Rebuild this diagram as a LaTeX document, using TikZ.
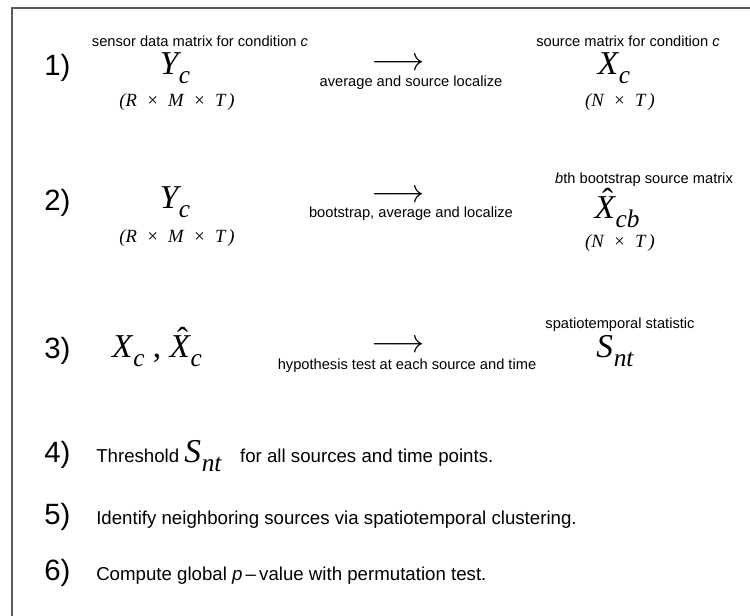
\documentclass[tikz,border=0pt]{standalone}
\usepackage{fontspec}
\setmainfont{Liberation Sans}
\newfontfamily\tmf{Liberation Serif}
\newcommand\bigvar[2]{{\fontsize{25}{27}\selectfont\tmf\itshape #1\kern0.02em\raisebox{-0.26em}{\fontsize{19}{20}\selectfont #2}}}
\newcommand\hatmark{\tmf\upshape\symbol{"02C6}}
\newcommand\hatvar[2]{{\fontsize{25}{27}\selectfont\tmf\itshape\ooalign{#1\cr\hidewidth\kern0.18em\raisebox{0.22em}{\hatmark}\hidewidth\cr}\kern0.02em\raisebox{-0.26em}{\fontsize{19}{20}\selectfont #2}}}
\newcommand\sep{\hspace{0.5em}}
\begin{document}
\begin{tikzpicture}[x=0.75pt,y=-0.75pt,
  lbl/.style={font=\fontsize{11}{13}\selectfont, inner sep=0pt},
  num/.style={font=\fontsize{22}{24}\selectfont, inner sep=0pt, anchor=base west},
  big/.style={inner sep=0pt},
  dimtxt/.style={font=\fontsize{14}{16}\selectfont\tmf\itshape, inner sep=0pt},
  arr/.style={inner sep=0pt, font=\fontsize{23}{24}\selectfont},
  txt/.style={font=\fontsize{14}{16}\selectfont, inner sep=0pt, anchor=base west},
  frame/.style={line width=1.5pt, draw=black!65}]
\useasboundingbox (0,0) rectangle (750,616);
\coordinate (fbl) at (12,616);
\coordinate (ftl) at (12,8);
\coordinate (ftr) at (750,8);
\draw[frame] (fbl) -- (ftl) -- (ftr);
% row 1
\node[num] (n1) at (44,76) {1)};
\node[lbl] (l1a) at (200,41) {sensor data matrix for condition \textit{c}};
\node[big] (y1) at (175,68) {\bigvar{Y}{c}};
\node[dimtxt] (d1a) at (177,102) {(R\sep×\sep M\sep×\sep T\,)};
\node[arr] (a1) at (398,64) {$\longrightarrow$};
\node[lbl] (t1) at (411,83) {average and source localize};
\node[lbl] (l1b) at (628,41) {source matrix for condition \textit{c}};
\node[big] (x1) at (614,68) {\bigvar{X}{c}};
\node[dimtxt] (d1b) at (620,102) {(N\sep×\sep T\,)};
% row 2
\node[num] (n2) at (44,211) {2)};
\node[big] (y2) at (175,202) {\bigvar{Y}{c}};
\node[dimtxt] (d2a) at (177,238) {(R\sep×\sep M\sep×\sep T\,)};
\node[arr] (a2) at (398,196) {$\longrightarrow$};
\node[lbl] (t2) at (411,214) {bootstrap, average and localize};
\node[lbl] (l2b) at (644,180) {\textit{b}th bootstrap source matrix};
\node[big, anchor=base] (x2) at (617,219) {\hatvar{X}{cb}};
\node[dimtxt] (d2b) at (620,243) {(N\sep×\sep T\,)};
% row 3
\node[num] (n3) at (44,359) {3)};
\node[big] (x3) at (157,351) {\bigvar{X}{c}{\fontsize{25}{27}\selectfont\tmf\ ,\ }\hatvar{X}{c}};
\node[arr] (a3) at (398,346) {$\longrightarrow$};
\node[lbl] (t3) at (407,366) {hypothesis test at each source and time};
\node[lbl] (l3b) at (620,325) {spatiotemporal statistic};
\node[big] (s3) at (615,351) {\bigvar{S}{nt}};
% rows 4-6
\node[num] (n4) at (44,463) {4)};
\node[txt] (t4) at (96,463) {Threshold \bigvar{S}{nt}\quad for all sources and time points.};
\node[num] (n5) at (44,524) {5)};
\node[txt] (t5) at (96,524) {Identify neighboring sources via spatiotemporal clustering.};
\node[num] (n6) at (44,580) {6)};
\node[txt] (t6) at (96,580) {Compute global \textit{p}\,–\,value with permutation test.};
\end{tikzpicture}
\end{document}
